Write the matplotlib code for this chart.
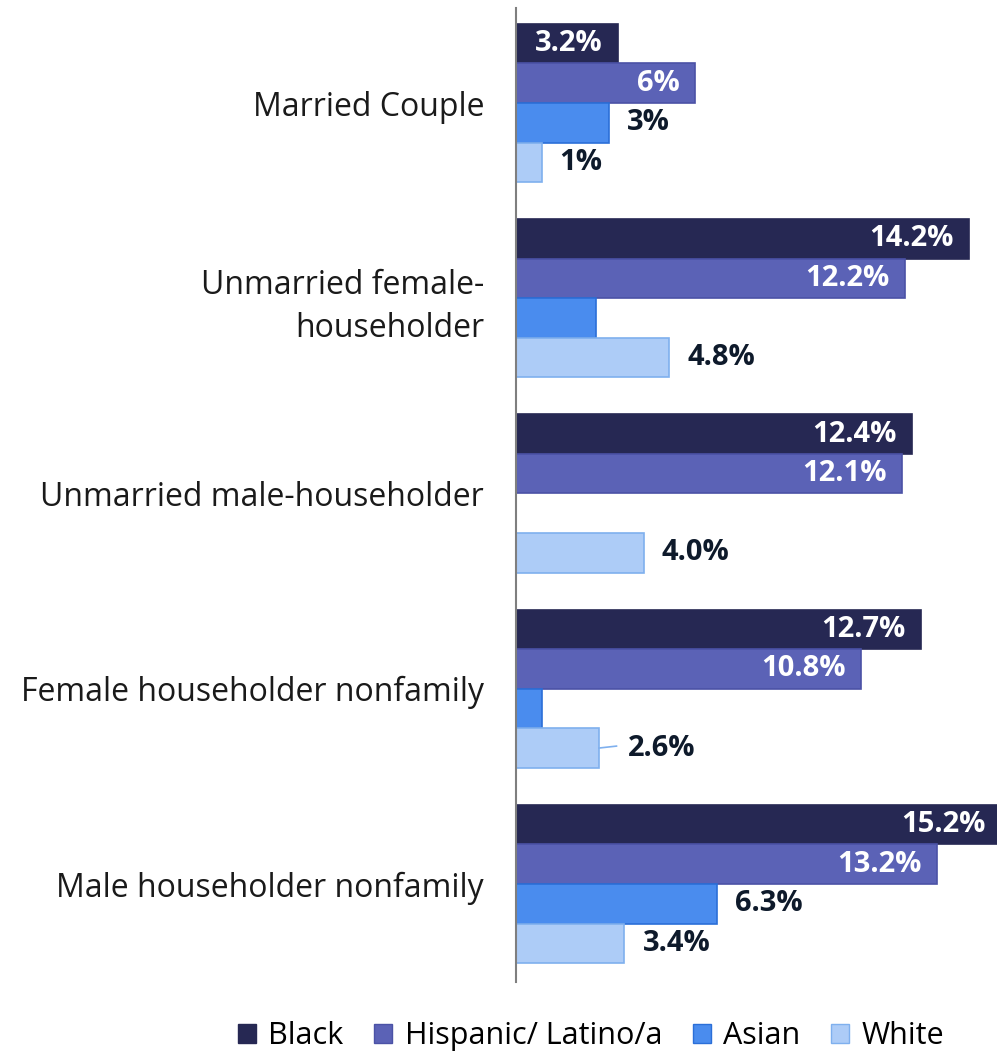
import matplotlib
matplotlib.use("Agg")
import matplotlib.pyplot as plt
import numpy as np
from matplotlib.patches import Patch

plt.rcParams['font.family'] = ['Open Sans', 'DejaVu Sans']

categories = ['Married Couple', 'Unmarried female-\nhouseholder', 'Unmarried male-householder',
              'Female householder nonfamily', 'Male householder nonfamily']
series = ['Black', 'Hispanic/ Latino/a', 'Asian', 'White']
black = [3.2, 14.2, 12.4, 12.7, 15.2]
hispanic = [5.6, 12.2, 12.1, 10.8, 13.2]
asian = [2.9, 2.5, 0.0, 0.8, 6.3]
white = [0.8, 4.8, 4.0, 2.6, 3.4]
black_labels = ['3.2%', '14.2%', '12.4%', '12.7%', '15.2%']
hispanic_labels = ['6%', '12.2%', '12.1%', '10.8%', '13.2%']
asian_labels = ['3%', '', '', '', '6.3%']
white_labels = ['1%', '4.8%', '4.0%', '2.6%', '3.4%']

values = [black, hispanic, asian, white]
labels = [black_labels, hispanic_labels, asian_labels, white_labels]
fills = ['#262853', '#5B62B6', '#4A8CEE', '#ADCCF7']
edges = ['#262853', '#4B52A6', '#2B6FD8', '#7FB0EE']
inside = [True, True, False, False]
dark = '#0E1A2B'

fig = plt.figure(figsize=(9.97, 10.57), dpi=100)
ax = fig.add_axes([516 / 997, 75 / 1057, 481 / 997, 974 / 1057])

h = 0.2025
y = np.arange(len(categories))
for j in range(4):
    yy = y + (j - 1.5) * h
    bars = ax.barh(yy, values[j], height=h, color=fills[j], edgecolor=edges[j], linewidth=1.2)
    for k, b in enumerate(bars):
        txt = labels[j][k]
        if not txt:
            continue
        v = values[j][k]
        if inside[j]:
            ax.annotate(txt, (v, yy[k]), xytext=(-11, 0), textcoords='offset points',
                        ha='right', va='center', color='white', fontsize=21, fontweight='bold',
                        annotation_clip=False)
        elif txt == '2.6%':
            # leader line for this one
            ax.annotate(txt, (v, yy[k]), xytext=(21, 0), textcoords='offset points',
                        ha='left', va='center', color=dark, fontsize=21, fontweight='bold')
            ax.plot([v, v + 0.55], [yy[k], yy[k] - 0.01], color='#7FB0EE', lw=1.2)
        else:
            ax.annotate(txt, (v, yy[k]), xytext=(13, 0), textcoords='offset points',
                        ha='left', va='center', color=dark, fontsize=21, fontweight='bold')

ax.set_xlim(0, 481 / 31.9)
ax.set_ylim(4.502, -0.4866)
ax.set_yticks(y)
ax.set_yticklabels(categories, fontsize=23, color='#1A1A1A', linespacing=1.4)
ax.tick_params(axis='y', length=0, pad=23)
ax.set_xticks([])
for s in ['top', 'right', 'bottom']:
    ax.spines[s].set_visible(False)
ax.spines['left'].set_color('#7F7F7F')
ax.spines['left'].set_linewidth(1.5)

handles = [Patch(facecolor=fills[j], edgecolor=edges[j], label=series[j]) for j in range(4)]
fig.legend(handles=handles, loc='center', bbox_to_anchor=(591 / 997, 21 / 1057), ncol=4,
           frameon=False, fontsize=22, handlelength=0.6, handleheight=0.6,
           handletextpad=0.4, columnspacing=1.0, borderpad=0.1)

fig.savefig('out.png', dpi=100)
